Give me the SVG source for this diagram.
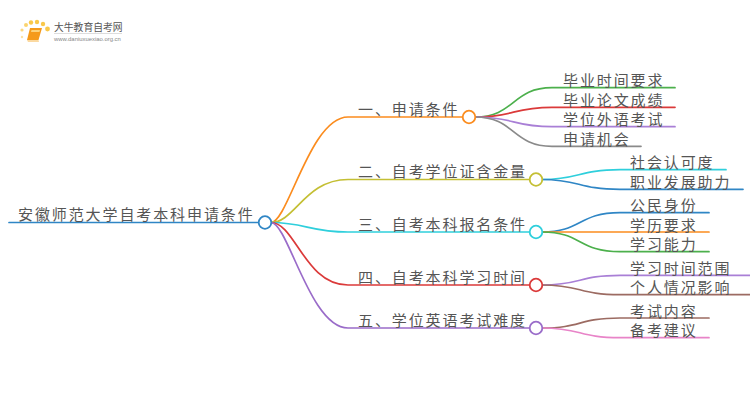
<svg xmlns="http://www.w3.org/2000/svg" width="750" height="410" viewBox="0 0 750 410">
<style>
.t{font-family:"Noto Sans CJK SC","Liberation Sans",sans-serif;font-size:15px;fill:#555;letter-spacing:1.9px}
.l{fill:none;stroke-width:1.7;stroke-linecap:round}
.n{fill:#fff;stroke-width:1.8}
.d{fill:#f9c84a}
</style>
<rect width="750" height="410" fill="#fff"/>
<g id="logo">
<circle class="d" cx="22" cy="37" r="1.2" opacity=".5"/><circle class="d" cx="22" cy="30" r="1.6" opacity=".7"/><circle class="d" cx="26" cy="25" r="2" opacity=".8"/><circle class="d" cx="31" cy="22.500" r="2.200"/><circle class="d" cx="37" cy="22" r="2.200"/><circle class="d" cx="43" cy="24" r="2.200"/><circle class="d" cx="47.500" cy="29" r="2.400"/>
<path d="M30 28H42L38.500 40H27Z" fill="#f59a1b"/><path d="M27 40H38.500L39 42H28Z" fill="#fbd9a0"/><path d="M31.500 30H40L39.500 32H31Z" fill="#fcd27a"/>
<text x="54" y="31" font-family="'Noto Sans CJK SC',sans-serif" font-size="9.800" fill="#555">大牛教育自考网</text>
<path d="M54 33.500H122" stroke="#ddd" stroke-width="1"/>
<text x="54" y="41" font-family="'Liberation Sans',sans-serif" font-size="5.900" fill="#888">www.daniuxuexiao.org.cn</text>
</g>
<g id="connectors">
<path class="l" stroke="#2f86c5" d="M9 222.500H259"/>
<path class="l" stroke="#fb8c1e" d="M271 222.500C288 222.500 310 117 348 117H463"/>
<path class="l" stroke="#c4bf34" d="M271 222.500C295 222.500 305 179.500 348 179.500H530"/>
<path class="l" stroke="#2fcfdc" d="M271 222.500C305 222.500 310 232 348 232H530"/>
<path class="l" stroke="#db3a3a" d="M271 222.500C295 222.500 305 285 348 285H530"/>
<path class="l" stroke="#9a6cc9" d="M271 222.500C288 222.500 310 328 348 328H530"/>
<path class="l" stroke="#4cb04c" d="M475 117C515 117 512 87.700 552 87.700H675"/>
<path class="l" stroke="#db3a3a" d="M475 117C515 117 512 107.300 552 107.300H675"/>
<path class="l" stroke="#a97fd6" d="M475 117C515 117 512 126.700 552 126.700H675"/>
<path class="l" stroke="#8a8a8a" d="M475 117C515 117 512 146.300 552 146.300H641"/>
<path class="l" stroke="#2fcfdc" d="M542 179.500C580 179.500 578 169.700 620 169.700H726"/>
<path class="l" stroke="#2f86c5" d="M542 179.500C580 179.500 578 189.300 620 189.300H743"/>
<path class="l" stroke="#2f86c5" d="M542 232C582 232 578 212.700 620 212.700H709"/>
<path class="l" stroke="#fb8c1e" d="M542 232H709"/>
<path class="l" stroke="#4cb04c" d="M542 232C582 232 578 251.700 620 251.700H709"/>
<path class="l" stroke="#a97fd6" d="M542 285C582 285 578 275.300 620 275.300H750"/>
<path class="l" stroke="#9c6b62" d="M542 285C582 285 578 294.700 620 294.700H750"/>
<path class="l" stroke="#9c6b62" d="M542 328C582 328 578 318 620 318H709"/>
<path class="l" stroke="#e884c8" d="M542 328C582 328 578 337.700 620 337.700H709"/>
</g>
<g id="root"><circle class="n" stroke="#2f86c5" cx="265" cy="222.500" r="6.300"/><text class="t" x="18" y="220">安徽师范大学自考本科申请条件</text></g>
<g id="b1"><circle class="n" stroke="#fb8c1e" cx="469" cy="117" r="6.300"/><text class="t" x="358" y="115">一、申请条件</text></g>
<g id="b2"><circle class="n" stroke="#c4bf34" cx="536" cy="179.500" r="6.300"/><text class="t" x="358" y="177">二、自考学位证含金量</text></g>
<g id="b3"><circle class="n" stroke="#2fcfdc" cx="536" cy="232" r="6.300"/><text class="t" x="358" y="230">三、自考本科报名条件</text></g>
<g id="b4"><circle class="n" stroke="#db3a3a" cx="536" cy="285" r="6.300"/><text class="t" x="358" y="283">四、自考本科学习时间</text></g>
<g id="b5"><circle class="n" stroke="#9a6cc9" cx="536" cy="328" r="6.300"/><text class="t" x="358" y="326">五、学位英语考试难度</text></g>
<g id="l11"><text class="t" x="563" y="86">毕业时间要求</text></g>
<g id="l12"><text class="t" x="563" y="105.500">毕业论文成绩</text></g>
<g id="l13"><text class="t" x="563" y="125">学位外语考试</text></g>
<g id="l14"><text class="t" x="563" y="144.500">申请机会</text></g>
<g id="l21"><text class="t" x="630" y="168">社会认可度</text></g>
<g id="l22"><text class="t" x="630" y="187.500">职业发展助力</text></g>
<g id="l31"><text class="t" x="630" y="211">公民身份</text></g>
<g id="l32"><text class="t" x="630" y="230.500">学历要求</text></g>
<g id="l33"><text class="t" x="630" y="250">学习能力</text></g>
<g id="l41"><text class="t" x="630" y="273.500">学习时间范围</text></g>
<g id="l42"><text class="t" x="630" y="293">个人情况影响</text></g>
<g id="l51"><text class="t" x="630" y="316.500">考试内容</text></g>
<g id="l52"><text class="t" x="630" y="336">备考建议</text></g>
</svg>
